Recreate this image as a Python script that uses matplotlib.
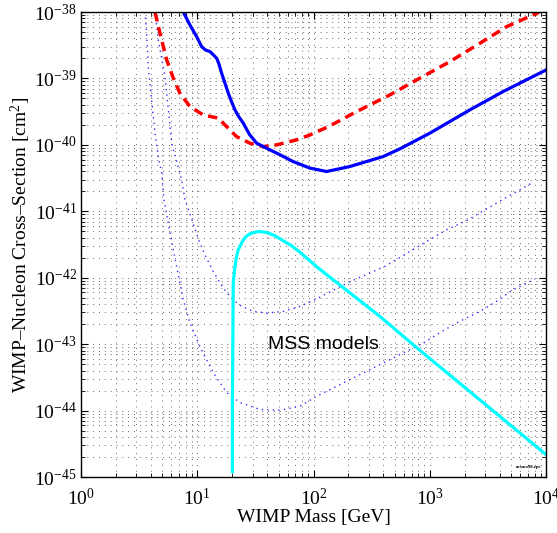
import matplotlib
matplotlib.use("Agg")
import matplotlib.pyplot as plt
from matplotlib.ticker import LogLocator, NullFormatter

plt.rcParams['font.family'] = ['Liberation Serif', 'DejaVu Serif']
plt.rcParams['mathtext.fontset'] = 'custom'
plt.rcParams['mathtext.rm'] = 'Liberation Serif'
plt.rcParams['mathtext.it'] = 'Liberation Serif:italic'
plt.rcParams['mathtext.bf'] = 'Liberation Serif:bold'

# --- data (WIMP mass in GeV, cross-section in cm^2) ---
blue_mass = [7.58, 8.65, 9.88, 10.9, 11.77, 12.9, 14.7, 15.37, 16.2, 18.5, 19.68, 21.1,
             22.8, 24.9, 28.1, 32.4, 39.5, 51.4, 66.9, 93.1, 129.6, 205.6, 397.5, 553,
             1002, 2212, 4277, 10000]
blue_xsec = [1.0e-38, 6.38e-39, 4.26e-39, 3.01e-39, 2.68e-39, 2.53e-39, 2.01e-39,
             1.65e-39, 1.20e-39, 5.98e-40, 4.51e-40, 3.36e-40, 2.64e-40, 2.12e-40,
             1.44e-40, 1.06e-40, 8.9e-41, 7.1e-41, 5.6e-41, 4.47e-41, 3.97e-41, 4.72e-41,
             6.67e-41, 8.7e-41, 1.5e-40, 3.36e-40, 6.34e-40, 1.34e-39]

red_mass = [4.33, 4.78, 5.46, 6.22, 7.10, 8.65, 11.26, 15.2, 17.9, 21.8, 28.4, 36.9,
            48.2, 71.6, 93.1, 138.4, 234.8, 453.9, 822, 1489, 2697, 4575, 8700]
red_xsec = [9.9e-39, 4.79e-39, 1.90e-39, 1.01e-39, 5.98e-40, 3.77e-40, 2.82e-40,
            2.52e-40, 1.88e-40, 1.33e-40, 1.06e-40, 9.4e-41, 1.0e-40, 1.19e-40,
            1.41e-40, 1.93e-40, 3.17e-40, 5.65e-40, 1.01e-39, 1.79e-39, 3.38e-39,
            6.01e-39, 9.9e-39]

dot_upper_mass = [4.33, 4.62, 5.28, 6.03, 7.34, 7.84, 10.55, 11.65, 13.73, 15.67, 17.9,
                  20.4, 24.1, 30.3, 39.5, 54.9, 76.4, 102.8, 205.6, 411, 572, 795,
                  1395, 2139, 3753, 7505]
dot_upper_xsec = [1.0e-38, 3.79e-39, 1.06e-39, 1.07e-40, 2.98e-41, 1.49e-41, 3.33e-42,
                  2.22e-42, 1.24e-42, 8.4e-43, 5.94e-43, 4.67e-43, 3.70e-43, 3.11e-43,
                  2.94e-43, 3.11e-43, 3.70e-43, 4.67e-43, 8.7e-43, 1.48e-42, 2.09e-42,
                  2.96e-42, 5.27e-42, 7.45e-42, 1.33e-41, 2.65e-41]

dot_lower_mass = [3.55, 3.67, 3.79, 4.05, 4.33, 4.62, 4.94, 5.17, 5.83, 6.65, 7.58,
                  8.65, 10.55, 13.73, 17.9, 23.3, 34.6, 51.4, 76.4, 106.3, 205.6, 553,
                  878, 1349, 1877, 2697, 3753, 5214, 8010]
dot_lower_xsec = [1.0e-38, 4.83e-39, 1.50e-39, 4.75e-40, 1.51e-40, 6.6e-41, 3.79e-41,
                  1.49e-41, 4.75e-42, 1.46e-42, 4.67e-43, 2.10e-43, 9.16e-44, 3.72e-44,
                  1.87e-44, 1.32e-44, 1.04e-44, 1.01e-44, 1.16e-44, 1.64e-44, 2.92e-44,
                  6.95e-44, 1.04e-43, 1.65e-43, 2.28e-43, 3.11e-43, 4.41e-43, 6.61e-43, 9.55e-43]

mss_mass = [20.07, 20.07, 20.4, 21.1, 21.7, 22.5, 24.9, 26.2, 28.4, 33.4, 39.5, 46.6,
            54.9, 64.8, 76.4, 109.8, 372, 795, 10000]
mss_xsec = [1.21e-45, 1.46e-44, 8.4e-43, 1.48e-42, 2.0e-42, 2.64e-42, 3.72e-42, 4.14e-42,
            4.59e-42, 4.97e-42, 4.80e-42, 4.29e-42, 3.60e-42, 3.03e-42, 2.42e-42,
            1.40e-42, 2.62e-43, 8.47e-44, 2.18e-45]

x_limits = [1, 1e4]
y_limits = [1e-45, 1e-38]

fig = plt.figure(figsize=(5.57, 5.33), dpi=100)
ax = fig.add_axes([81/557, 1 - 477/533, 465/557, 465/533])
ax.set_xscale('log')
ax.set_yscale('log')
ax.set_xlim(x_limits)
ax.set_ylim(y_limits)

ax.xaxis.set_major_locator(LogLocator(base=10, numticks=10))
ax.yaxis.set_major_locator(LogLocator(base=10, numticks=12))
ax.xaxis.set_minor_locator(LogLocator(base=10, subs=range(2, 10), numticks=50))
ax.yaxis.set_minor_locator(LogLocator(base=10, subs=range(2, 10), numticks=50))
ax.xaxis.set_minor_formatter(NullFormatter())
ax.yaxis.set_minor_formatter(NullFormatter())

ax.grid(True, which='both', color='#6a6a6a', linestyle=(0, (1, 5)), linewidth=0.7)
ax.set_axisbelow(True)

ax.plot(dot_upper_mass, dot_upper_xsec, color='#3030ff', linestyle=(0, (1, 3)), linewidth=1.0)
ax.plot(dot_lower_mass, dot_lower_xsec, color='#3030ff', linestyle=(0, (1, 3)), linewidth=1.0)
ax.plot(red_mass, red_xsec, color='#ff0000', linestyle=(0, (2.7, 1.7)), linewidth=2.5)
ax.plot(blue_mass, blue_xsec, color='#0000ff', linewidth=2.3, solid_joinstyle='round')
ax.plot(mss_mass, mss_xsec, color='#00ffff', linewidth=2.3, solid_joinstyle='round')

ax.text(40.5, 9.8e-44, 'MSS models', family=['Liberation Sans', 'DejaVu Sans'],
        fontsize=14, ha='left', va='center')
ax.text(0.989, 0.0215, 'cosmo98.eps', transform=ax.transAxes, fontsize=3.5,
        fontweight='bold', ha='right', va='center')

ax.tick_params(which='both', direction='in', top=True, right=True, labelsize=14)
ax.tick_params(which='major', length=5, width=0.8, pad=3)
ax.tick_params(which='minor', length=3, width=0.6)
ax.tick_params(axis='x', which='major', pad=8)
for s in ax.spines.values():
    s.set_linewidth(1.0)

ax.set_xlabel('WIMP Mass [GeV]', fontsize=14)
ax.set_ylabel('WIMP\u2013Nucleon Cross\u2013Section [cm$^2$]', fontsize=14)
ax.xaxis.set_label_coords(0.5, -0.068)
ax.yaxis.set_label_coords(-0.104, 0.5)

fig.savefig('out.png', dpi=100)
